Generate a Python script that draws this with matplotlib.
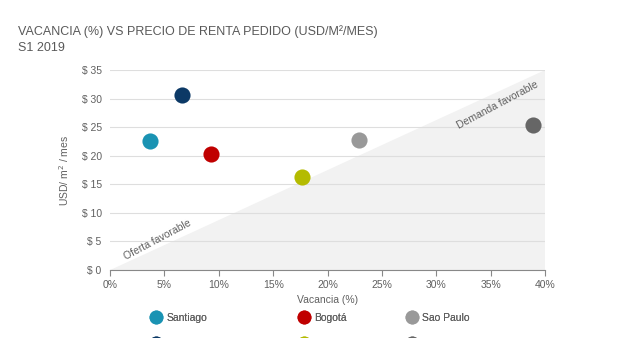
import matplotlib
matplotlib.use('Agg')
import matplotlib.pyplot as plt
from matplotlib.lines import Line2D

plt.rcParams['font.family'] = ['Liberation Sans', 'DejaVu Sans']

# data
cities = ['Santiago', 'Buenos Aires', 'Bogotá', 'Lima', 'Sao Paulo', 'Rio de Janeiro']
vacancy = [3.7, 6.6, 9.3, 17.6, 22.9, 38.9]
rent = [22.5, 30.6, 20.3, 16.3, 22.7, 25.3]
colors = ['#1a93b3', '#0c3966', '#c00000', '#b4bb00', '#999999', '#666666']

x_ticks = [0, 5, 10, 15, 20, 25, 30, 35, 40]
y_ticks = [0, 5, 10, 15, 20, 25, 30, 35]

grey = '#606060'

fig = plt.figure(figsize=(6.4, 3.38), dpi=100)
ax = fig.add_axes([0.172, 0.201, 0.680, 0.592])

# shaded "favourable" area under the diagonal
ax.fill([0, 40, 40], [0, 35, 0], color='#f2f2f2', zorder=1, lw=0)

for i in range(len(cities)):
    ax.scatter(vacancy[i], rent[i], s=135, color=colors[i], zorder=3, lw=0)

ax.text(4.4, 5.3, 'Oferta favorable', rotation=28, ha='center', va='center',
        fontsize=7.5, color=grey, zorder=4)
ax.text(35.6, 28.9, 'Demanda favorable', rotation=28, ha='center', va='center',
        fontsize=7.5, color=grey, zorder=4)

ax.set_xlim(0, 40)
ax.set_ylim(0, 35)
ax.set_xticks(x_ticks)
ax.set_xticklabels(['%d%%' % t for t in x_ticks])
ax.set_yticks(y_ticks)
ax.set_yticklabels(['$ %d' % t for t in y_ticks])
ax.grid(axis='y', color='#dedede', lw=0.8, zorder=2)
for s in ['top', 'right', 'left']:
    ax.spines[s].set_visible(False)
ax.spines['bottom'].set_color('#888888')
ax.tick_params(axis='x', colors='#888888', labelcolor=grey, labelsize=7.5, length=4)
ax.tick_params(axis='y', length=0, labelcolor=grey, labelsize=7.5, pad=6)
ax.set_xlabel('Vacancia (%)', fontsize=7.5, color=grey, labelpad=3)
ax.set_ylabel('USD/ m$^2$ / mes', fontsize=7.5, color=grey, labelpad=8)

fig.text(0.028, 0.895, 'VACANCIA (%) VS PRECIO DE RENTA PEDIDO (USD/M²/MES)',
         fontsize=9, color='#595959')
fig.text(0.028, 0.85, 'S1 2019', fontsize=9, color='#595959')

# legend: three columns, second row falls off the bottom edge like the original
anchors = [0.228, 0.458, 0.627]
for c in range(3):
    handles = []
    for i in (2 * c, 2 * c + 1):
        handles.append(Line2D([], [], marker='o', ls='', markersize=10,
                              markerfacecolor=colors[i], markeredgewidth=0,
                              label=cities[i]))
    leg = fig.legend(handles=handles, loc='upper left', bbox_to_anchor=(anchors[c], 0.086),
                     frameon=False, fontsize=7.5, labelcolor=grey, handletextpad=0.4,
                     labelspacing=1.45, borderaxespad=0, handlelength=1.2)
    fig.add_artist(leg)

fig.savefig('out.png', dpi=100)
